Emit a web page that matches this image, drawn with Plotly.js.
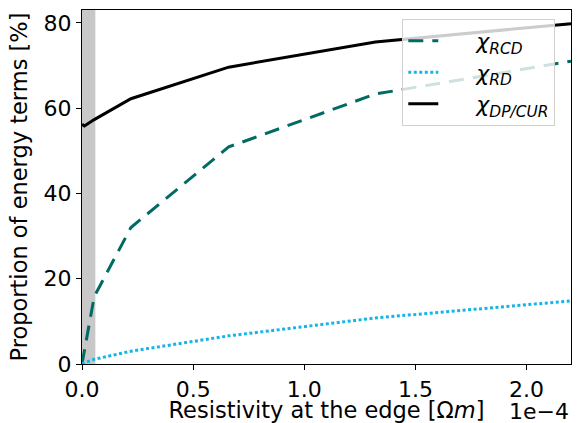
<!DOCTYPE html>
<html>
<head>
<meta charset="utf-8">
<script src="https://cdn.plot.ly/plotly-3.0.1.min.js"></script>
<style>html,body{margin:0;padding:0;background:#fff;}#chart{width:580px;height:423px;}</style>
</head>
<body>
<div id="chart"></div>
<script>
// Resistivity at the edge, in units of 1e-4 Ohm m
const resistivity = [0, 0.011, 0.055, 0.22, 0.66, 1.32, 2.2];
const chiRCD = [0, 3, 15.8, 32.0, 50.9, 63.3, 71.0];
const chiRD = [0, 0.3, 1.1, 3.0, 6.6, 10.8, 14.8];
const chiDPCUR = [56.2, 55.8, 57.3, 62.2, 69.6, 75.5, 79.8];
const seriesNames = ['<i>χ<sub>RCD</sub></i>', '<i>χ<sub>RD</sub></i>', '<i>χ<sub>DP/CUR</sub></i>'];
const shadedBand = [0, 0.06];
const xTicks = [0, 0.5, 1.0, 1.5, 2.0];
const xTickText = ['0.0', '0.5', '1.0', '1.5', '2.0'];
const yTicks = [0, 20, 40, 60, 80];

const font = 'DejaVu Sans, sans-serif';
const pad = '\u2003\u2002';
const traces = [
  {x: resistivity, y: chiRCD, name: pad + seriesNames[0], mode: 'lines',
   line: {color: '#006b63', width: 3, dash: '15px,9px'}},
  {x: resistivity, y: chiRD, name: pad + seriesNames[1], mode: 'lines',
   line: {color: '#16b4e9', width: 3, dash: '3px,2.5px'}},
  {x: resistivity, y: chiDPCUR, name: pad + seriesNames[2], mode: 'lines',
   line: {color: '#000000', width: 3}}
];
const layout = {
  width: 580, height: 423,
  margin: {l: 82, r: 9, t: 10, b: 59},
  paper_bgcolor: '#fff', plot_bgcolor: '#fff',
  font: {family: font, size: 22, color: '#000'},
  showlegend: true,
  legend: {x: 0.655, y: 0.975, xanchor: 'left', yanchor: 'top',
    bgcolor: 'rgba(255,255,255,0.8)', bordercolor: '#d0d0d0', borderwidth: 1,
    font: {family: font, size: 22}, tracegroupgap: 0},
  xaxis: {range: [0, 2.2], tickvals: xTicks, ticktext: xTickText,
    showgrid: false, zeroline: false, showline: true, mirror: true,
    linecolor: '#000', linewidth: 1.2, ticks: 'outside', ticklen: 5, tickcolor: '#000',
    tickfont: {size: 22},
    title: {text: 'Resistivity at the edge [Ω<i>m</i>]', font: {size: 22.5}}},
  yaxis: {range: [0, 83], tickvals: yTicks,
    showgrid: false, zeroline: false, showline: true, mirror: true,
    linecolor: '#000', linewidth: 1.2, ticks: 'outside', ticklen: 5, tickcolor: '#000',
    tickfont: {size: 22},
    title: {text: 'Proportion of energy terms [%]', font: {size: 22.5}}},
  shapes: [{type: 'rect', xref: 'x', yref: 'paper', x0: shadedBand[0], x1: shadedBand[1],
    y0: 0, y1: 1, fillcolor: '#c8c8c8', line: {width: 0}, layer: 'below'}],
  annotations: [{text: '1e−4', xref: 'paper', yref: 'paper', x: 1.0, y: -0.135,
    xanchor: 'right', yanchor: 'middle', showarrow: false, font: {size: 22}}]
};
Plotly.newPlot('chart', traces, layout, {displayModeBar: false, staticPlot: true});
</script>
</body>
</html>
